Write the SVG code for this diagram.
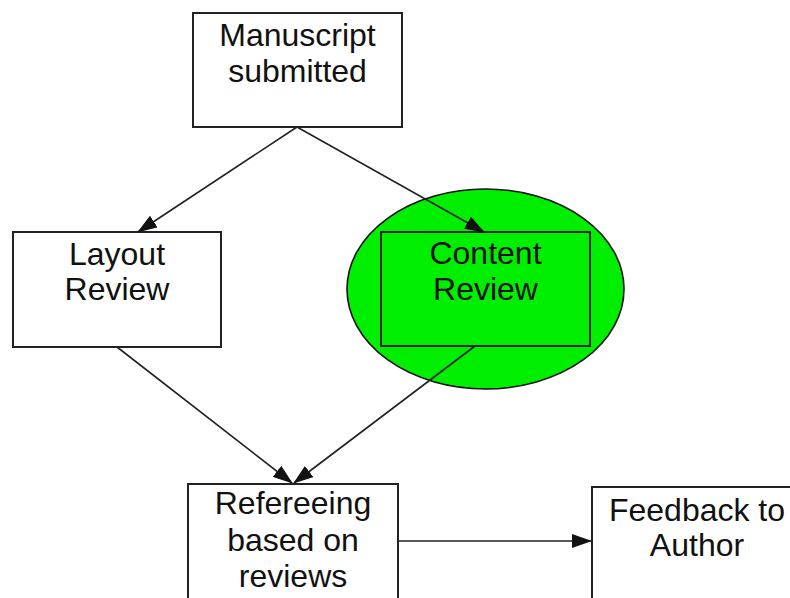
<svg xmlns="http://www.w3.org/2000/svg" width="790" height="598" viewBox="0 0 790 598">
<style>
.box{fill:#fff;stroke:#222;stroke-width:2}
.t{font-family:"Liberation Sans",Arial,sans-serif;font-size:32px;fill:#111;text-anchor:middle}
.c{stroke:#222;stroke-width:1.6;fill:none;marker-end:url(#ah)}
</style>
<defs>
<marker id="ah" markerWidth="20" markerHeight="14" refX="19" refY="7" orient="auto" markerUnits="userSpaceOnUse">
<path d="M0,0 L20,7 L0,14 Z" fill="#111"/>
</marker>
</defs>
<rect width="790" height="598" fill="#fff"/>
<g id="manuscript">
<rect class="box" x="193" y="13" width="209" height="114"/>
<text class="t" x="297.5" y="46">Manuscript</text>
<text class="t" x="297.5" y="82">submitted</text>
</g>
<g id="layout">
<rect class="box" x="13" y="232" width="208" height="115"/>
<text class="t" x="117" y="265">Layout</text>
<text class="t" x="117" y="300">Review</text>
</g>
<g id="content">
<ellipse cx="485.5" cy="289" rx="138.5" ry="100" fill="#00ee00" stroke="#111" stroke-width="1.6"/>
<rect x="381" y="232" width="209" height="114" fill="#00ee00" stroke="#222" stroke-width="2"/>
<text class="t" x="485.5" y="264">Content</text>
<text class="t" x="485.5" y="300">Review</text>
</g>
<g id="refereeing">
<rect class="box" x="188" y="484" width="210" height="130"/>
<text class="t" x="293" y="514">Refereeing</text>
<text class="t" x="293" y="551">based on</text>
<text class="t" x="293" y="587">reviews</text>
</g>
<g id="feedback">
<rect class="box" x="592" y="487" width="210" height="130"/>
<text class="t" x="697" y="521">Feedback to</text>
<text class="t" x="697" y="556">Author</text>
</g>
<g id="connectors">
<line class="c" x1="297" y1="127" x2="138" y2="232"/>
<line class="c" x1="297" y1="127" x2="484" y2="232"/>
<line class="c" x1="117" y1="347" x2="292" y2="483"/>
<line class="c" x1="475" y1="346" x2="294" y2="483"/>
<line class="c" x1="398" y1="541" x2="591" y2="541"/>
</g>
</svg>
